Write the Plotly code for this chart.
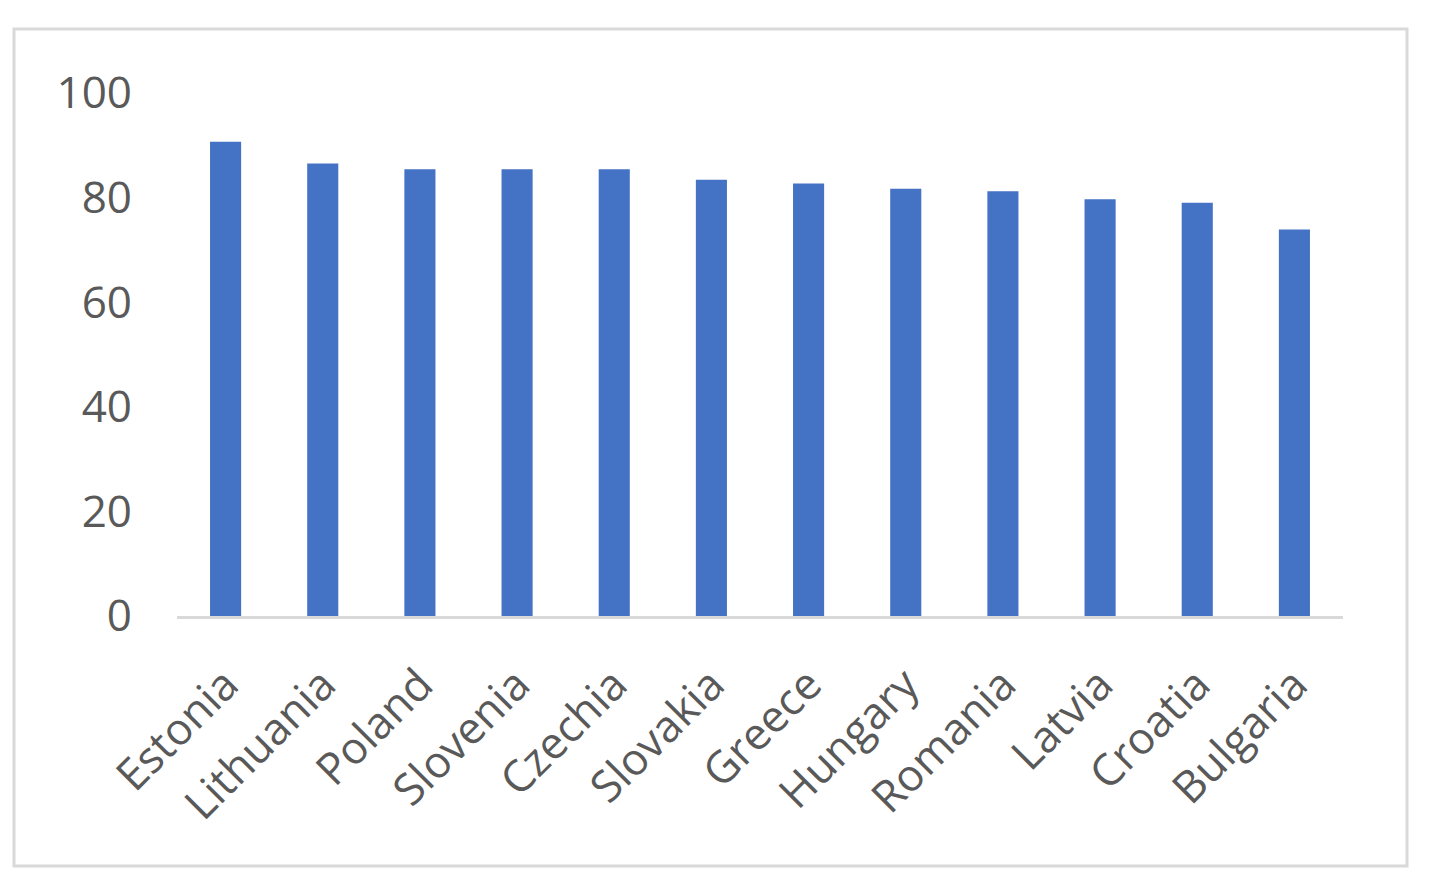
import plotly.graph_objects as go

# country scores
countries = ["Estonia", "Lithuania", "Poland", "Slovenia", "Czechia", "Slovakia",
             "Greece", "Hungary", "Romania", "Latvia", "Croatia", "Bulgaria"]
scores = [90.7, 86.5, 85.4, 85.4, 85.4, 83.4, 82.7, 81.7, 81.2, 79.7, 79.0, 73.9]
y_ticks = [0, 20, 40, 60, 80, 100]

font_name = "Open Sans"
text_col = "#595959"

fig = go.Figure()
fig.add_trace(go.Bar(x=countries, y=scores, marker=dict(color="#4472C4", line=dict(width=0))))

# page body adds 8px offset, so margins are shifted by that
fig.update_layout(
    width=1440, height=896,
    paper_bgcolor="white", plot_bgcolor="white",
    margin=dict(l=169, r=105, t=85, b=288),
    bargap=0.68,
    showlegend=False,
    font=dict(family=font_name, size=44, color=text_col),
)
fig.update_xaxes(
    showgrid=False, showline=True, linecolor="#d9d9d9", linewidth=3,
    ticks="", tickangle=-45, ticklabelstandoff=22,
    tickfont=dict(family=font_name, size=44, color=text_col),
)
fig.update_yaxes(
    range=[0, 100], tickvals=y_ticks, showgrid=False, zeroline=False,
    showline=False, ticks="", ticklabelstandoff=44,
    tickfont=dict(family=font_name, size=44, color=text_col),
)

# outer chart border
fig.add_shape(type="rect", xref="paper", yref="paper",
              x0=-163 / 1166, x1=1230 / 1166, y0=-250 / 523, y1=1 + 64 / 523,
              line=dict(color="#d9d9d9", width=3), fillcolor="rgba(0,0,0,0)", layer="below")

fig.write_html("out.html")
